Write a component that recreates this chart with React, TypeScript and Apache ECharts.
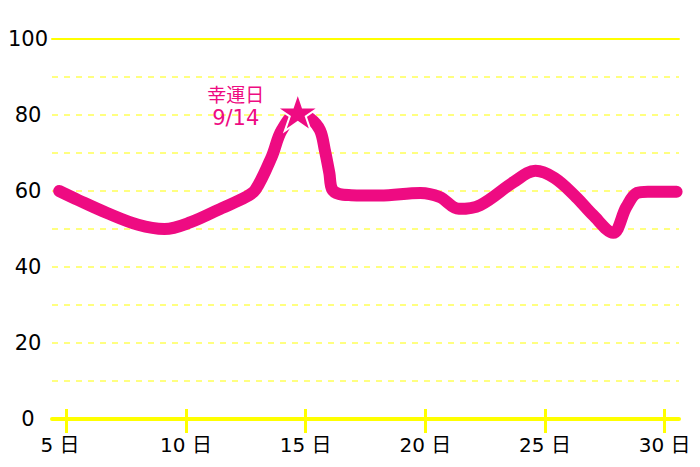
import React, { useEffect, useRef } from "react";
import * as echarts from "echarts";

const days = [4.7, 5.5, 6.7, 8.0, 9.1, 10.2, 11.5, 12.5, 12.9, 13.58, 14.0, 14.67, 15.2, 15.6, 15.8, 15.99, 16.1, 16.4, 16.9, 18.1, 19.8, 20.6, 21.4, 22.3, 23.7, 24.6, 25.4, 26.3, 27.0, 27.85, 28.4, 28.85, 29.3, 30.5];
const values = [60, 57.6, 54.2, 51.1, 50.0, 51.8, 55.5, 58.4, 60.3, 69, 76, 80.5, 79, 76, 70.8, 64.7, 60.5, 59.2, 58.9, 58.8, 59.5, 58.4, 55.3, 56.3, 62.4, 65.3, 63.4, 58.4, 53.7, 49, 55.8, 59.5, 59.8, 59.8];
const tickDays = [5, 10, 15, 20, 25, 30];
const luckyDay = [14.67, 80.8];
const luckyTitle = "幸運日";
const luckyDate = "9/14";

const PINK = "#ee0b82";
const YELLOW = "#ffff00";
const FONT = "'DejaVu Sans', 'Noto Sans CJK JP', sans-serif";
const CJK = "'Noto Sans CJK JP', sans-serif";
const STAR = "path://M100,0 L122.45,69.1 L195.1,69.1 L136.3,111.8 L158.8,180.9 L100,138.2 L41.2,180.9 L63.7,111.8 L4.9,69.1 L77.55,69.1 Z";

export default function App() {
  const ref = useRef<HTMLDivElement>(null);
  useEffect(() => {
    if (!ref.current) return;
    const chart = echarts.init(ref.current, undefined, { renderer: "svg" });
    chart.setOption({
      animation: false,
      backgroundColor: "#fff",
      grid: { left: 52, right: 21, top: 39, bottom: 48, containLabel: false },
      xAxis: [
        {
          type: "value",
          min: 4.4,
          max: 30.6,
          position: "bottom",
          axisLine: { show: true, lineStyle: { color: YELLOW, width: 4 } },
          axisTick: { show: true, customValues: tickDays, length: 14, lineStyle: { color: YELLOW, width: 3 } },
          axisLabel: {
            show: true,
            customValues: tickDays,
            margin: 16,
            color: "#000",
            fontSize: 20,
            fontFamily: FONT,
            formatter: (v: number) => (v === 5 ? v + " 日  " : v + " 日"),
          },
          splitLine: { show: false },
        },
        {
          type: "value",
          min: 4.4,
          max: 30.6,
          position: "bottom",
          axisLine: { show: false },
          axisTick: { show: true, inside: true, customValues: tickDays, length: 10, lineStyle: { color: YELLOW, width: 3 } },
          axisLabel: { show: false },
          splitLine: { show: false },
        },
        {
          type: "value",
          min: 4.4,
          max: 30.6,
          position: "top",
          axisLine: { show: true, lineStyle: { color: YELLOW, width: 2 } },
          axisTick: { show: false },
          axisLabel: { show: false },
          splitLine: { show: false },
        },
      ],
      yAxis: {
        type: "value",
        min: 0,
        max: 100,
        interval: 10,
        axisLine: { show: false },
        axisTick: { show: false },
        axisLabel: {
          align: "center",
          margin: 24,
          color: "#000",
          fontSize: 21,
          fontFamily: FONT,
          formatter: (v: number) => (v % 20 === 0 ? String(v) : ""),
        },
        splitLine: { show: true, lineStyle: { color: "#ffff80", width: 2, type: [6, 6] } },
      },
      series: [
        {
          type: "line",
          xAxisIndex: 0,
          data: days.map((d, i) => [d, values[i]]),
          smooth: 0.35,
          showSymbol: false,
          symbol: "none",
          lineStyle: { color: PINK, width: 12, cap: "round", join: "round" },
          markPoint: {
            symbol: STAR,
            symbolSize: [42, 40],
            symbolKeepAspect: true,
            itemStyle: { color: PINK, borderColor: "#fff", borderWidth: 2 },
            label: {
              show: true,
              position: "left",
              distance: 14,
              offset: [-26, -6],
              formatter: "{a|" + luckyTitle + "}\n{b|" + luckyDate + "}",
              align: "center",
              rich: {
                a: { color: PINK, fontSize: 19, lineHeight: 25, fontFamily: CJK, align: "center" },
                b: { color: PINK, fontSize: 21, lineHeight: 25, fontFamily: FONT, align: "center" },
              },
            },
            data: [{ coord: luckyDay, value: 0 }],
          },
        },
      ],
    });
    return () => chart.dispose();
  }, []);
  return <div ref={ref} style={{ width: 700, height: 467, position: "absolute", left: 0, top: 0 }} />;
}
